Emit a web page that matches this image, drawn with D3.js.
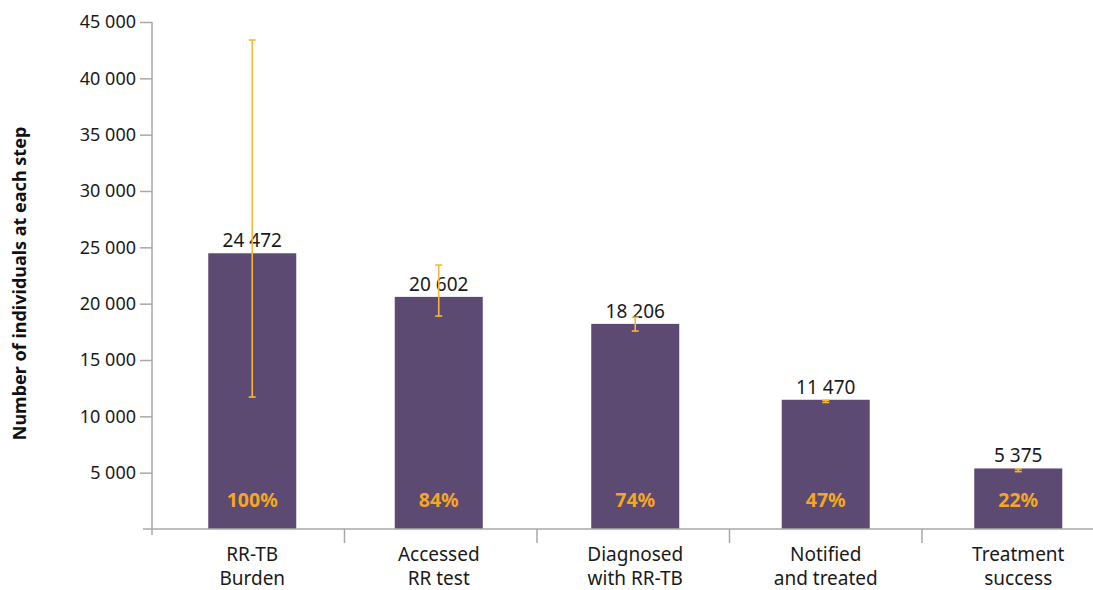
<!DOCTYPE html>
<html>
<head>
<meta charset="utf-8">
<script src="https://cdn.jsdelivr.net/npm/d3@7"></script>
<style>
  html, body { margin: 0; padding: 0; background: #fff; }
  svg { display: block; font-family: "Noto Sans", "Open Sans", sans-serif; }
</style>
</head>
<body>
<svg id="chart" width="1093" height="590"></svg>
<script>
// Care cascade steps (two-line labels)
const categories = [
  ["RR-TB", "Burden"],
  ["Accessed", "RR test"],
  ["Diagnosed", "with RR-TB"],
  ["Notified", "and treated"],
  ["Treatment", "success"]
];
const values = [24472, 20602, 18206, 11470, 5375];
const errLow = [11710, 18900, 17570, 11230, 5090];
const errHigh = [43400, 23430, 18790, 11420, 5330];
const percentLabels = ["100%", "84%", "74%", "47%", "22%"];
const yTicks = [5000, 10000, 15000, 20000, 25000, 30000, 35000, 40000, 45000];
const yTitle = "Number of individuals at each step";

const barColor = "#5c4a72";
const errColor = "#f6b73c";
const pctColor = "#f5a623";
const axisColor = "#a8a8a8";

const svg = d3.select("#chart");
const fmt = d3.formatLocale({ decimal: ".", thousands: " ", grouping: [3], currency: ["", ""] }).format(",d");

const x0 = 152, yBase = 529, yTop = 22;
const x = d3.scaleBand().domain(d3.range(categories.length)).range([x0, x0 + 192.5 * 5]).padding(0);
const y = d3.scaleLinear().domain([0, 45000]).range([yBase, yTop]);
const barW = 88;
const cx = i => x(i) + x.bandwidth() / 2 + [4, -2, 2, 0, 0][i];

// Y axis
const yAxis = d3.axisLeft(y).tickValues(yTicks).tickSize(12).tickFormat(fmt);
const gy = svg.append("g").attr("transform", `translate(${x0},0)`).call(yAxis);
gy.select(".domain").remove();
gy.selectAll(".tick line").attr("stroke", axisColor).attr("stroke-width", 1.5);
gy.selectAll(".tick text").attr("x", -16).attr("font-size", 18).attr("fill", "#1a1a1a")
  .attr("font-family", "'Noto Sans', sans-serif");
svg.append("line").attr("x1", x0).attr("x2", x0).attr("y1", yTop).attr("y2", yBase + 6)
  .attr("stroke", axisColor).attr("stroke-width", 1.5);

// Y axis title
svg.append("text")
  .attr("transform", `translate(26,${(yTop + yBase) / 2 + 8}) rotate(-90)`)
  .attr("text-anchor", "middle")
  .attr("font-size", 18).attr("font-weight", "bold").attr("fill", "#111")
  .text(yTitle);

// Bars
svg.append("g").selectAll("rect").data(values).join("rect")
  .attr("x", (d, i) => cx(i) - barW / 2)
  .attr("y", d => y(d))
  .attr("width", barW)
  .attr("height", d => y(0) - y(d))
  .attr("fill", barColor);

// X axis line with separators between steps
svg.append("line").attr("x1", 143).attr("x2", 1093).attr("y1", yBase).attr("y2", yBase)
  .attr("stroke", axisColor).attr("stroke-width", 1.5);
svg.append("g").selectAll("line").data(d3.range(1, categories.length)).join("line")
  .attr("x1", i => x(i)).attr("x2", i => x(i))
  .attr("y1", yBase).attr("y2", yBase + 14)
  .attr("stroke", axisColor).attr("stroke-width", 1.5);

// Category labels
const cat = svg.append("g").selectAll("text").data(categories).join("text")
  .attr("text-anchor", "middle").attr("font-size", 19).attr("fill", "#1a1a1a")
  .attr("x", (d, i) => cx(i));
cat.selectAll("tspan").data(d => d).join("tspan")
  .attr("x", function () { return d3.select(this.parentNode).attr("x"); })
  .attr("y", (d, j) => 561 + j * 24)
  .text(d => d);

// Value labels above bars
svg.append("g").selectAll("text").data(values).join("text")
  .attr("text-anchor", "middle").attr("font-size", 19).attr("fill", "#1a1a1a")
  .attr("x", (d, i) => cx(i))
  .attr("y", d => y(d) - 6)
  .text(d => fmt(d));

// Percent labels inside bars
svg.append("g").selectAll("text").data(percentLabels).join("text")
  .attr("text-anchor", "middle").attr("font-size", 19.5).attr("font-weight", "bold").attr("fill", pctColor)
  .attr("x", (d, i) => cx(i))
  .attr("y", 507)
  .text(d => d);

// Uncertainty intervals
const eg = svg.append("g").attr("stroke", errColor).attr("stroke-width", 1.6);
values.forEach((v, i) => {
  const ex = cx(i);
  eg.append("line").attr("x1", ex).attr("x2", ex).attr("y1", y(errHigh[i])).attr("y2", y(errLow[i]));
  [errHigh[i], errLow[i]].forEach(e => {
    eg.append("line").attr("x1", ex - 3.5).attr("x2", ex + 3.5).attr("y1", y(e)).attr("y2", y(e));
  });
});
</script>
</body>
</html>
